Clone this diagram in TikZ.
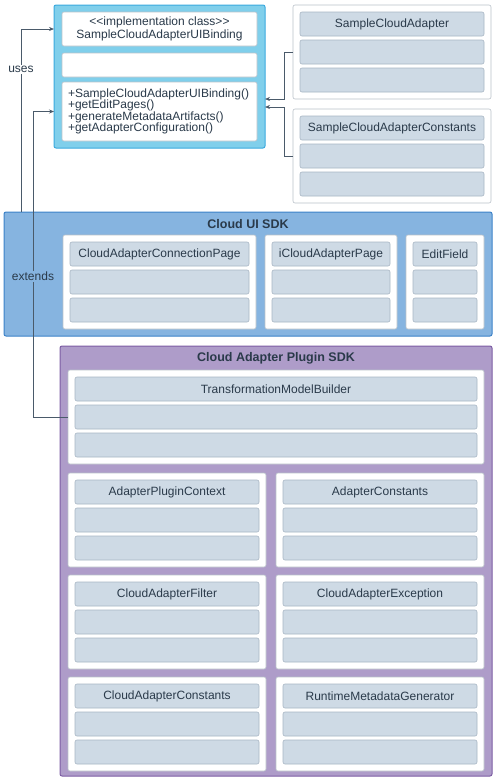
\documentclass[tikz,border=0pt]{standalone}
\usepackage{fontspec}
\setmainfont{Liberation Sans}
\usetikzlibrary{arrows.meta, positioning}
\definecolor{txt}{HTML}{2A3A4A}
\definecolor{linkc}{HTML}{4A5A6A}
\definecolor{implfill}{HTML}{80CFEB}
\definecolor{impledge}{HTML}{3AA9DE}
\definecolor{uifill}{HTML}{86B4E0}
\definecolor{uiedge}{HTML}{3C82C8}
\definecolor{plugfill}{HTML}{AE9CC9}
\definecolor{plugedge}{HTML}{7C5DA3}
\definecolor{slotfill}{HTML}{CEDAE5}
\definecolor{slotedge}{HTML}{A8B6C4}
\definecolor{paneledge}{HTML}{B9C1C9}
\tikzset{
    box/.style={anchor=north west, inner sep=0pt, outer sep=0pt,
        rounded corners=2pt, text=txt},
    implbox/.style={box, draw=impledge, fill=implfill, line width=1pt},
    uibox/.style={box, draw=uiedge, fill=uifill, line width=1pt},
    plugbox/.style={box, draw=plugedge, fill=plugfill, line width=1pt},
    panel/.style={box, draw=paneledge, fill=white, line width=0.6pt},
    slot/.style={box, draw=slotedge, fill=slotfill, line width=0.6pt,
        minimum height=24pt},
    sdktitle/.style={text=txt, font=\fontsize{12.5}{14}\selectfont\bfseries},
    link/.style={draw=linkc, line width=0.7pt, -{Stealth[length=5pt,width=4pt]}}
}
\begin{document}
\begin{tikzpicture}[x=1pt, y=-1pt, font=\fontsize{12}{14}\selectfont]
    \useasboundingbox (0,0) rectangle (497,782);

    \node[uibox, minimum width=488pt, minimum height=124pt] (uisdk) at (4,212) {};
    \node[sdktitle, below=4pt of uisdk.north] (uisdk-title) {Cloud UI SDK};
    \node[plugbox, minimum width=432pt, minimum height=430pt] (plugsdk) at (60,346) {};
    \node[sdktitle, below=3pt of plugsdk.north] (plugsdk-title) {Cloud Adapter Plugin SDK};

    \foreach \nm/\x/\y/\w/\txt in {sca/293/5/198/SampleCloudAdapter,
            scc/293/109/198/SampleCloudAdapterConstants,
            cacp/63/235/193/CloudAdapterConnectionPage,
            icap/265/235/132/iCloudAdapterPage,
            edit/406/235/78/EditField,
            tmb/68/370/416/TransformationModelBuilder,
            apc/68/473/198/AdapterPluginContext,
            ac/276/473/208/AdapterConstants,
            caf/68/575/198/CloudAdapterFilter,
            cae/276/575/208/CloudAdapterException,
            cac/68/677/198/CloudAdapterConstants,
            rmg/276/677/208/RuntimeMetadataGenerator}
    {
        \node[panel, minimum width=\w pt, minimum height=94pt] (\nm) at (\x,\y) {};
        \node[slot, minimum width={(\w-14)*1pt}] (\nm-1) at (\x+7,\y+7) {\txt};
        \node[slot, minimum width={(\w-14)*1pt}] (\nm-2) at (\x+7,\y+35) {};
        \node[slot, minimum width={(\w-14)*1pt}] (\nm-3) at (\x+7,\y+63) {};
    }

    \node[implbox, minimum width=211pt, minimum height=143pt] (impl) at (54,5) {};
    \node[panel, minimum width=195pt, minimum height=34pt, align=center,
        font=\fontsize{12}{13}\selectfont] (impl-head) at (62,12)
        {<{}<implementation class>{}>\\SampleCloudAdapterUIBinding};
    \node[panel, minimum width=195pt, minimum height=24pt] (impl-attr) at (62,53) {};
    \node[panel, minimum width=195pt, minimum height=59pt, text width=183pt,
        inner xsep=6pt, align=left, font=\fontsize{12}{11.4}\selectfont] (impl-ops) at (62,82)
        {+SampleCloudAdapterUIBinding()\\+getEditPages()\\+generateMetadataArtifacts()\\+getAdapterConfiguration()};

    \draw[link] (sca.west) -- ++(-9,0) |- ([yshift=-22.5pt]impl.east);
    \draw[link] (scc.west) -- ++(-9,0) |- ([yshift=-30.5pt]impl.east);
    \draw[link] ([xshift=17pt]uisdk.north west) |- (impl.west |- impl-head.west)
        node[pos=0.39, fill=white, text=txt, inner sep=1pt] {uses};
    \draw[link] (tmb.west |- tmb-2.west) -- ++(-35,0) |- (impl.west |- impl-ops.west)
        node[pos=0.23, fill=uifill, text=txt, inner sep=1pt] {extends};
\end{tikzpicture}
\end{document}
